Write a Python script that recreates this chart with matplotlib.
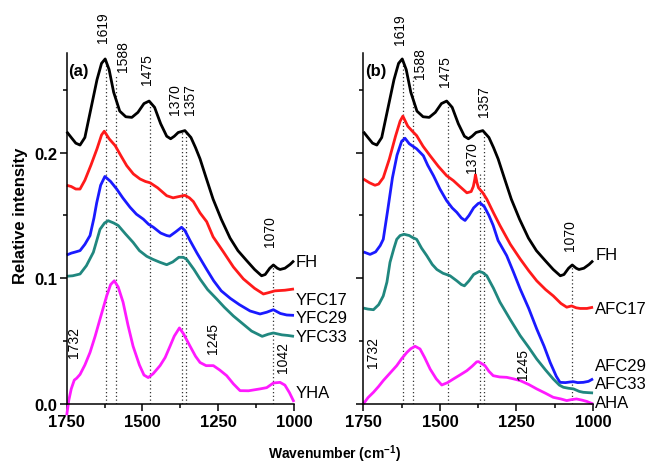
import matplotlib
matplotlib.use("Agg")
import matplotlib.pyplot as plt

plt.rcParams['font.family'] = ['Liberation Sans', 'DejaVu Sans']
plt.rcParams['mathtext.fontset'] = 'custom'
plt.rcParams['mathtext.rm'] = 'Liberation Sans'
plt.rcParams['mathtext.bf'] = 'Liberation Sans:bold'

# FH spectrum (same in both panels)
fh_wn = [1750, 1735, 1720, 1706, 1690, 1670, 1650, 1635, 1623, 1610, 1595, 1575, 1555, 1535,
         1515, 1495, 1478, 1460, 1440, 1420, 1407, 1395, 1382, 1360, 1340, 1325, 1310, 1290,
         1267, 1240, 1211, 1185, 1156, 1130, 1107, 1095, 1080, 1068, 1055, 1046, 1030, 1013, 1000]
fh_i = [.2166, .212, .2075, .206, .212, .235, .258, .271, .2745, .266, .248, .233, .2285, .228,
        .232, .239, .241, .236, .223, .213, .211, .213, .216, .2175, .212, .204, .195, .18,
        .163, .147, .132, .122, .114, .107, .102, .103, .108, .1106, .108, .107, .108, .111, .114]

# panel (a)
yfc17_wn = [1750, 1735, 1720, 1706, 1690, 1670, 1650, 1635, 1626, 1610, 1590, 1570, 1552, 1530,
            1508, 1490, 1475, 1450, 1420, 1399, 1380, 1360, 1345, 1332, 1310, 1288, 1267, 1250,
            1233, 1200, 1167, 1130, 1101, 1085, 1063, 1030, 1000]
yfc17_i = [.174, .173, .171, .171, .178, .19, .203, .214, .217, .211, .2055, .197, .1896, .183,
           .179, .177, .176, .172, .1657, .164, .165, .166, .164, .161, .152, .145, .133, .127,
           .121, .109, .0995, .092, .0875, .0885, .090, .0905, .0915]

yfc29_wn = [1750, 1735, 1720, 1706, 1690, 1673, 1660, 1651, 1638, 1624, 1605, 1585, 1565, 1541,
            1520, 1497, 1480, 1464, 1440, 1420, 1410, 1390, 1371, 1360, 1343, 1320, 1288, 1265,
            1240, 1210, 1180, 1145, 1112, 1090, 1068, 1045, 1024, 1000]
yfc29_i = [.1185, .120, .121, .122, .127, .134, .148, .160, .174, .181, .177, .171, .164, .1565,
           .151, .147, .143, .1406, .136, .134, .1335, .137, .1406, .138, .130, .120, .107, .098,
           .090, .084, .079, .074, .0716, .073, .075, .072, .0708, .0705]

yfc33_wn = [1750, 1730, 1706, 1685, 1662, 1640, 1625, 1613, 1595, 1580, 1555, 1531, 1510, 1486,
            1465, 1442, 1420, 1400, 1380, 1365, 1354, 1330, 1310, 1285, 1255, 1230, 1200, 1170,
            1140, 1105, 1085, 1068, 1040, 1020, 1000]
yfc33_i = [.1016, .102, .1034, .110, .1207, .139, .144, .1458, .144, .142, .135, .1286, .122, .1175,
           .115, .1127, .1108, .113, .1167, .1167, .115, .107, .0994, .091, .0835, .077, .070, .064,
           .058, .0538, .0555, .0565, .055, .0545, .0538]

yha_wn = [1750, 1743, 1735, 1725, 1717, 1706, 1690, 1673, 1656, 1640, 1618, 1605, 1593, 1580,
          1564, 1548, 1531, 1510, 1495, 1481, 1465, 1442, 1425, 1409, 1395, 1378, 1365, 1343,
          1325, 1310, 1290, 1266, 1245, 1222, 1200, 1178, 1150, 1112, 1090, 1068, 1046, 1030,
          1015, 1000]
yha_i = [-.009, .003, .012, .019, .0205, .0235, .031, .041, .054, .0676, .086, .095, .098, .093,
         .081, .063, .046, .031, .023, .021, .024, .0305, .037, .046, .054, .0605, .056, .046,
         .038, .033, .0305, .0305, .027, .0225, .016, .0106, .0105, .012, .013, .0167, .0172, .015,
         .009, .0016]

# panel (b)
afc17_wn = [1750, 1730, 1712, 1700, 1685, 1665, 1645, 1630, 1621, 1605, 1590, 1576, 1555, 1532,
            1505, 1478, 1456, 1435, 1412, 1398, 1391, 1386, 1384, 1379, 1374, 1360, 1347, 1325,
            1304, 1270, 1238, 1210, 1184, 1155, 1130, 1105, 1086, 1070, 1055, 1042, 1020, 1000]
afc17_i = [.179, .176, .174, .175, .180, .195, .213, .225, .229, .221, .217, .2135, .205, .1975,
           .189, .1816, .1777, .173, .168, .169, .173, .179, .1824, .176, .172, .168, .163, .152,
           .142, .127, .1154, .106, .098, .091, .086, .080, .077, .078, .0765, .076, .076, .077]

afc29_wn = [1750, 1728, 1710, 1695, 1685, 1670, 1655, 1640, 1625, 1614, 1600, 1588, 1576, 1554,
            1540, 1521, 1500, 1478, 1460, 1445, 1430, 1418, 1405, 1390, 1375, 1369, 1355, 1340,
            1326, 1310, 1282, 1260, 1238, 1210, 1184, 1160, 1140, 1120, 1108, 1090, 1075, 1064,
            1050, 1032, 1015, 1000]
afc29_i = [.121, .119, .121, .126, .131, .155, .180, .198, .209, .2114, .207, .205, .203, .1975,
           .190, .1816, .171, .1617, .156, .1525, .148, .146, .150, .156, .1595, .16, .157, .150,
           .142, .13, .118, .105, .0915, .076, .0597, .046, .033, .022, .0172, .017, .0175, .0177,
           .017, .0172, .018, .020]

afc33_wn = [1750, 1735, 1717, 1700, 1685, 1673, 1663, 1650, 1641, 1630, 1617, 1600, 1590, 1576,
            1560, 1543, 1525, 1510, 1490, 1467, 1445, 1430, 1420, 1405, 1390, 1371, 1360, 1347,
            1325, 1304, 1270, 1238, 1210, 1184, 1155, 1130, 1110, 1097, 1080, 1064, 1045, 1032,
            1015, 1000]
afc33_i = [.0763, .0755, .075, .079, .086, .097, .1127, .124, .131, .134, .135, .134, .1325, .131,
           .124, .118, .111, .107, .104, .102, .098, .095, .094, .098, .103, .1055, .1045, .102,
           .092, .081, .067, .0544, .045, .0358, .027, .0199, .015, .0133, .0125, .012, .010, .0093,
           .009, .0088]

aha_wn = [1750, 1735, 1717, 1700, 1685, 1665, 1641, 1625, 1608, 1595, 1581, 1565, 1550, 1532,
          1512, 1494, 1475, 1456, 1435, 1412, 1395, 1380, 1374, 1363, 1353, 1340, 1326, 1305,
          1282, 1260, 1238, 1210, 1184, 1155, 1130, 1105, 1086, 1070, 1054, 1035, 1020, 1000]
aha_i = [.0, .005, .0093, .014, .0186, .024, .0305, .036, .041, .044, .0459, .0438, .037, .0278,
         .020, .0151, .017, .0199, .023, .0265, .030, .0335, .0337, .032, .0305, .026, .0225, .0215,
         .0212, .020, .0186, .0155, .012, .0085, .0053, .004, .0027, .0035, .004, .003, .002, .0]

peak_wn = [1619, 1588, 1475, 1370, 1357, 1070]

series_a = [('FH', fh_wn, fh_i, 'black', 0.113),
            ('YFC17', yfc17_wn, yfc17_i, '#ff1a1a', 0.0835),
            ('YFC29', yfc29_wn, yfc29_i, '#1a1aff', 0.069),
            ('YFC33', yfc33_wn, yfc33_i, '#20877f', 0.054),
            ('YHA', yha_wn, yha_i, '#ff1aff', 0.0095)]
series_b = [('FH', fh_wn, fh_i, 'black', 0.119),
            ('AFC17', afc17_wn, afc17_i, '#ff1a1a', 0.0756),
            ('AFC29', afc29_wn, afc29_i, '#1a1aff', 0.0305),
            ('AFC33', afc33_wn, afc33_i, '#20877f', 0.016),
            ('AHA', aha_wn, aha_i, '#ff1aff', 0.001)]

# line tops and label positions (layout)
tops_a = [0.2745, 0.2625, 0.241, 0.216, 0.2175, 0.111]
tops_b = [0.2745, 0.260, 0.241, 0.184, 0.2175, 0.111]
labels_a = [('1619', 1630, 0.300), ('1588', 1564, 0.2768), ('1475', 1485, 0.2665),
            ('1370', 1393, 0.2427), ('1357', 1343, 0.2427), ('1070', 1079, 0.1376),
            ('1732', 1726, 0.050), ('1245', 1267, 0.0525), ('1042', 1036, 0.038)]
labels_b = [('1619', 1630, 0.2983), ('1588', 1565, 0.272), ('1475', 1483, 0.2649),
            ('1357', 1355, 0.2411), ('1370', 1396, 0.197), ('1070', 1075, 0.135),
            ('1732', 1717, 0.042), ('1245', 1228, 0.0326)]

fig = plt.figure(figsize=(6.5, 4.64), dpi=100)
ax_a = fig.add_axes([0.1026, 0.1272, 0.3497, 0.7558])
ax_b = fig.add_axes([0.559, 0.1272, 0.3534, 0.7558])

for ax, series, tops, labels, tag in [(ax_a, series_a, tops_a, labels_a, '(a)'),
                                      (ax_b, series_b, tops_b, labels_b, '(b)')]:
    ax.vlines(peak_wn, 0, tops, colors='#333333', linestyles=(0, (1, 2)), lw=0.9)
    for name, wn, inten, col, ylab in series:
        ax.plot(wn, inten, color=col, lw=2, clip_on=False, solid_capstyle='butt')
        ax.text(993, ylab, name, fontsize=12, va='center', ha='left', clip_on=False)
    for txt, x, y in labels:
        ax.text(x, y, txt, rotation=90, fontsize=10, ha='center', va='center', clip_on=False)
    ax.text(0.006, 0.95, tag, transform=ax.transAxes, fontsize=12, fontweight='bold',
            ha='left', va='center')
    ax.set_xlim(1750, 1000)
    ax.set_ylim(0, 0.279)
    ax.set_xticks([1750, 1500, 1250, 1000])
    ax.set_xticks([1625, 1375, 1125], minor=True)
    ax.set_yticks([0.0, 0.1, 0.2])
    ax.set_yticks([0.05, 0.15, 0.25], minor=True)
    ax.spines['top'].set_visible(False)
    ax.spines['right'].set_visible(False)
    for s in ['left', 'bottom']:
        ax.spines[s].set_linewidth(1.1)
    ax.tick_params(which='major', direction='out', length=5, width=1.1, labelsize=12, pad=2)
    ax.tick_params(which='minor', direction='out', length=3, width=1.1)
    for lab in ax.get_xticklabels() + ax.get_yticklabels():
        lab.set_fontweight('bold')

ax_a.set_yticklabels(['0.0', '0.1', '0.2'])
for lab in ax_a.get_yticklabels():
    lab.set_fontweight('bold')
ax_b.set_yticklabels([])
ax_a.set_ylabel('Relative intensity', fontsize=12, fontweight='bold')
ax_a.yaxis.set_label_coords(-0.17, 0.54)
fig.text(335 / 650, 1 - 459 / 464, r'Wavenumber (cm$^{\mathbf{-1}}$)', fontsize=10,
         fontweight='bold', ha='center', va='baseline')

fig.savefig('out.png', dpi=100)
